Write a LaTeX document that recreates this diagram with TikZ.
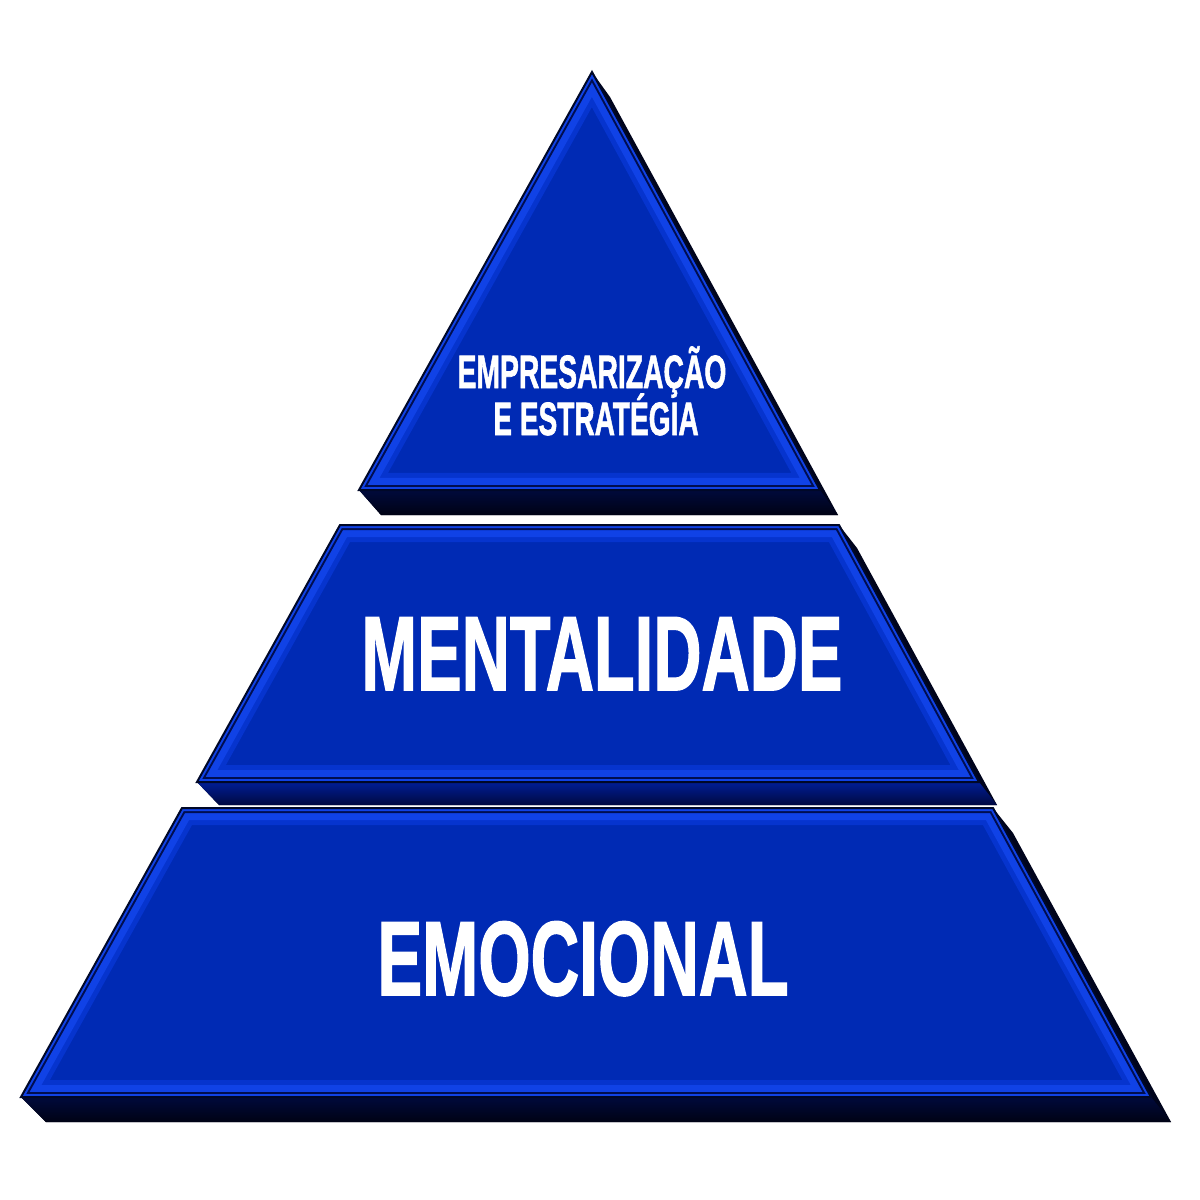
\documentclass[tikz,border=0pt]{standalone}
\usepackage{fontspec}
\setmainfont{Liberation Sans}
\newfontfamily\impfont[FakeBold=1.6]{Liberation Sans}
\usetikzlibrary{calc}
\definecolor{facecol}{RGB}{0,42,180}
\definecolor{rimlight}{RGB}{16,66,230}
\definecolor{rimmid}{RGB}{6,52,206}
\definecolor{rimdark}{RGB}{0,14,80}
\definecolor{edgecol}{RGB}{0,8,40}
\definecolor{bandtop}{RGB}{0,10,60}
\definecolor{bandbot}{RGB}{0,2,20}
\definecolor{bandfill}{RGB}{0,4,28}
\definecolor{midtop}{RGB}{0,30,150}
\definecolor{midbot}{RGB}{0,8,64}
\newcommand{\tierface}[1]{%
  \fill[facecol] #1 -- cycle;
  \begin{scope}
    \clip #1 -- cycle;
    \draw[rimmid, line width=0.34cm, line join=miter] #1 -- cycle;
    \draw[rimlight, line width=0.24cm, line join=miter] #1 -- cycle;
    \draw[rimdark, line width=0.10cm, line join=miter] #1 -- cycle;
    \draw[rimlight, line width=0.06cm, line join=miter] #1 -- cycle;
  \end{scope}
  \draw[edgecol, line width=0.02cm, line join=miter] #1 -- cycle;
}
\tikzset{
  lbl/.style={text=white, inner sep=0pt, anchor=base},
  bigtxt/.style={lbl, font=\impfont\fontsize{30}{30}\selectfont\bfseries},
  smalltxt/.style={lbl, font=\impfont\fontsize{13.3}{13.6}\selectfont\bfseries}
}
\begin{document}
\begin{tikzpicture}[x=0.01cm, y=-0.01cm]
\fill[white] (0,0) rectangle (1200,1200);
\useasboundingbox (0,0) rectangle (1200,1200);

% coordinates
\coordinate (a1) at (592,72);
\coordinate (b1l) at (359,490);
\coordinate (b1r) at (820,490);
\coordinate (t2l) at (340,525);
\coordinate (t2r) at (839,525);
\coordinate (b2l) at (197,782);
\coordinate (b2r) at (979,782);
\coordinate (t3l) at (182,808);
\coordinate (t3r) at (993,808);
\coordinate (b3l) at (21,1097);
\coordinate (b3r) at (1151,1097);

% ---- tier 3 (bottom)
\fill[bandfill] (t3l) -- (t3r) -- ($(t3r)+(20,25)$) -- ($(b3r)+(20,25)$) -- ($(b3l)+(25,25)$) -- (b3l) -- cycle;
\shade[top color=bandtop, bottom color=bandbot] (b3l) -- (b3r) -- ($(b3r)+(20,25)$) -- ($(b3l)+(25,25)$) -- cycle;
\tierface{(t3l) -- (t3r) -- (b3r) -- (b3l)}

% ---- tier 2 (middle)
\fill[bandfill] (t2l) -- (t2r) -- ($(t2r)+(18,23)$) -- ($(b2r)+(18,23)$) -- ($(b2l)+(22,23)$) -- (b2l) -- cycle;
\shade[top color=midtop, bottom color=midbot] (b2l) -- (b2r) -- ($(b2r)+(18,23)$) -- ($(b2l)+(22,23)$) -- cycle;
\tierface{(t2l) -- (t2r) -- (b2r) -- (b2l)}

% ---- tier 1 (top)
\fill[bandfill] (a1) -- ($(a1)+(18,25)$) -- ($(b1r)+(18,25)$) -- ($(b1l)+(22,25)$) -- (b1l) -- cycle;
\shade[top color=bandtop, bottom color=bandbot] (b1l) -- (b1r) -- ($(b1r)+(18,25)$) -- ($(b1l)+(22,25)$) -- cycle;
\tierface{(a1) -- (b1r) -- (b1l)}

% ---- labels
\node[smalltxt] (emp1) at (592,388) {\scalebox{0.605}[1]{EMPRESARIZAÇÃO}};
\node[smalltxt] (emp2) at (596,435) {\scalebox{0.6}[1]{E ESTRATÉGIA}};
\node[bigtxt] (ment) at (602,690) {\scalebox{0.633}[1]{MENTALIDADE}};
\node[bigtxt] (emoc) at (583,995) {\scalebox{0.638}[1]{EMOCIONAL}};
\end{tikzpicture}
\end{document}
